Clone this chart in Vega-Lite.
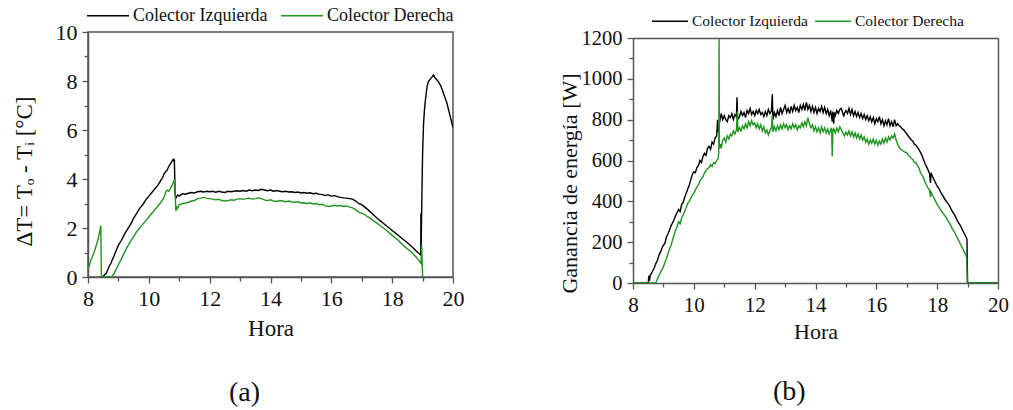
{
"$schema":"https://vega.github.io/schema/vega-lite/v6.json",
"padding":{"left":12,"top":3,"right":5,"bottom":5},
"config":{
 "font":"Liberation Serif",
 "view":{"stroke":"#555","strokeWidth":1.5},
 "axis":{"domainColor":"#555","domainWidth":1.5,"tickColor":"#555","tickWidth":1.3,"labelColor":"#111","titleColor":"#111","titleFontWeight":"normal","grid":false,"labelFlush":false,"labelOverlap":false,"labelFont":"Liberation Serif","titleFont":"Liberation Serif"},
 "legend":{"orient":"none","direction":"horizontal","symbolType":"M-1,0H3","symbolStrokeWidth":1.5,"labelFont":"Liberation Serif","labelColor":"#111","title":null},
 "title":{"fontWeight":"normal","font":"Liberation Serif","color":"#111"}
},
"spacing":92,
"resolve":{"scale":{"color":"independent"},"legend":{"color":"independent"}},
"datasets":{
"a":[
{"h":8.48,"v":0,"c":"I"},{"h":8.55,"v":0.1,"c":"I"},{"h":8.6,"v":0.15,"c":"I"},{"h":8.65,"v":0.3,"c":"I"},{"h":8.7,"v":0.45,"c":"I"},{"h":8.75,"v":0.55,"c":"I"},{"h":8.8,"v":0.7,"c":"I"},{"h":8.85,"v":0.85,"c":"I"},{"h":8.9,"v":1.0,"c":"I"},{"h":8.95,"v":1.15,"c":"I"},{"h":9.0,"v":1.3,"c":"I"},{"h":9.1,"v":1.5,"c":"I"},{"h":9.2,"v":1.75,"c":"I"},{"h":9.3,"v":1.95,"c":"I"},{"h":9.4,"v":2.15,"c":"I"},{"h":9.5,"v":2.4,"c":"I"},{"h":9.6,"v":2.6,"c":"I"},{"h":9.7,"v":2.8,"c":"I"},{"h":9.8,"v":2.95,"c":"I"},{"h":9.9,"v":3.15,"c":"I"},{"h":10.0,"v":3.3,"c":"I"},{"h":10.1,"v":3.45,"c":"I"},{"h":10.2,"v":3.6,"c":"I"},{"h":10.3,"v":3.75,"c":"I"},{"h":10.4,"v":3.95,"c":"I"},{"h":10.45,"v":4.05,"c":"I"},{"h":10.5,"v":4.2,"c":"I"},{"h":10.55,"v":4.3,"c":"I"},{"h":10.6,"v":4.35,"c":"I"},{"h":10.65,"v":4.5,"c":"I"},{"h":10.7,"v":4.6,"c":"I"},{"h":10.75,"v":4.7,"c":"I"},{"h":10.8,"v":4.8,"c":"I"},{"h":10.82,"v":4.75,"c":"I"},{"h":10.84,"v":4.8,"c":"I"},{"h":10.86,"v":3.5,"c":"I"},{"h":10.88,"v":3.2,"c":"I"},{"h":10.9,"v":3.25,"c":"I"},{"h":10.95,"v":3.35,"c":"I"},{"h":11.0,"v":3.3,"c":"I"},{"h":11.1,"v":3.4,"c":"I"},{"h":11.2,"v":3.38,"c":"I"},{"h":11.3,"v":3.42,"c":"I"},{"h":11.4,"v":3.45,"c":"I"},{"h":11.5,"v":3.43,"c":"I"},{"h":11.6,"v":3.48,"c":"I"},{"h":11.7,"v":3.5,"c":"I"},{"h":11.8,"v":3.47,"c":"I"},{"h":11.9,"v":3.5,"c":"I"},{"h":12.0,"v":3.48,"c":"I"},{"h":12.1,"v":3.5,"c":"I"},{"h":12.2,"v":3.46,"c":"I"},{"h":12.3,"v":3.5,"c":"I"},{"h":12.4,"v":3.47,"c":"I"},{"h":12.5,"v":3.45,"c":"I"},{"h":12.6,"v":3.5,"c":"I"},{"h":12.7,"v":3.48,"c":"I"},{"h":12.8,"v":3.5,"c":"I"},{"h":12.9,"v":3.52,"c":"I"},{"h":13.0,"v":3.5,"c":"I"},{"h":13.1,"v":3.53,"c":"I"},{"h":13.2,"v":3.5,"c":"I"},{"h":13.3,"v":3.55,"c":"I"},{"h":13.4,"v":3.52,"c":"I"},{"h":13.5,"v":3.55,"c":"I"},{"h":13.6,"v":3.53,"c":"I"},{"h":13.7,"v":3.58,"c":"I"},{"h":13.8,"v":3.55,"c":"I"},{"h":13.9,"v":3.52,"c":"I"},{"h":14.0,"v":3.55,"c":"I"},{"h":14.1,"v":3.5,"c":"I"},{"h":14.2,"v":3.53,"c":"I"},{"h":14.3,"v":3.5,"c":"I"},{"h":14.4,"v":3.48,"c":"I"},{"h":14.5,"v":3.5,"c":"I"},{"h":14.6,"v":3.47,"c":"I"},{"h":14.7,"v":3.48,"c":"I"},{"h":14.8,"v":3.45,"c":"I"},{"h":14.9,"v":3.47,"c":"I"},{"h":15.0,"v":3.43,"c":"I"},{"h":15.1,"v":3.45,"c":"I"},{"h":15.2,"v":3.42,"c":"I"},{"h":15.3,"v":3.44,"c":"I"},{"h":15.4,"v":3.4,"c":"I"},{"h":15.5,"v":3.42,"c":"I"},{"h":15.6,"v":3.38,"c":"I"},{"h":15.7,"v":3.36,"c":"I"},{"h":15.8,"v":3.33,"c":"I"},{"h":15.9,"v":3.35,"c":"I"},{"h":16.0,"v":3.3,"c":"I"},{"h":16.1,"v":3.32,"c":"I"},{"h":16.2,"v":3.28,"c":"I"},{"h":16.3,"v":3.25,"c":"I"},{"h":16.4,"v":3.23,"c":"I"},{"h":16.5,"v":3.22,"c":"I"},{"h":16.6,"v":3.2,"c":"I"},{"h":16.7,"v":3.18,"c":"I"},{"h":16.8,"v":3.1,"c":"I"},{"h":16.9,"v":3.0,"c":"I"},{"h":17.0,"v":2.95,"c":"I"},{"h":17.2,"v":2.75,"c":"I"},{"h":17.4,"v":2.52,"c":"I"},{"h":17.6,"v":2.3,"c":"I"},{"h":17.8,"v":2.1,"c":"I"},{"h":18.0,"v":1.9,"c":"I"},{"h":18.2,"v":1.7,"c":"I"},{"h":18.4,"v":1.5,"c":"I"},{"h":18.6,"v":1.3,"c":"I"},{"h":18.8,"v":1.05,"c":"I"},{"h":18.94,"v":0.9,"c":"I"},{"h":18.945,"v":2.6,"c":"I"},{"h":18.95,"v":1.0,"c":"I"},{"h":18.98,"v":3.5,"c":"I"},{"h":19.0,"v":5.0,"c":"I"},{"h":19.03,"v":6.2,"c":"I"},{"h":19.06,"v":6.8,"c":"I"},{"h":19.1,"v":7.3,"c":"I"},{"h":19.15,"v":7.8,"c":"I"},{"h":19.2,"v":8.0,"c":"I"},{"h":19.3,"v":8.15,"c":"I"},{"h":19.36,"v":8.25,"c":"I"},{"h":19.4,"v":8.15,"c":"I"},{"h":19.5,"v":8.0,"c":"I"},{"h":19.6,"v":7.8,"c":"I"},{"h":19.7,"v":7.45,"c":"I"},{"h":19.8,"v":7.1,"c":"I"},{"h":19.9,"v":6.6,"c":"I"},{"h":20.0,"v":6.1,"c":"I"},
{"h":8.0,"v":0.3,"c":"D"},{"h":8.05,"v":0.5,"c":"D"},{"h":8.1,"v":0.7,"c":"D"},{"h":8.15,"v":0.85,"c":"D"},{"h":8.2,"v":1.0,"c":"D"},{"h":8.25,"v":1.2,"c":"D"},{"h":8.3,"v":1.4,"c":"D"},{"h":8.35,"v":1.65,"c":"D"},{"h":8.4,"v":1.95,"c":"D"},{"h":8.42,"v":2.1,"c":"D"},{"h":8.44,"v":0,"c":"D"},{"h":8.75,"v":0,"c":"D"},{"h":8.8,"v":0.05,"c":"D"},{"h":8.85,"v":0.12,"c":"D"},{"h":8.9,"v":0.25,"c":"D"},{"h":8.95,"v":0.38,"c":"D"},{"h":9.0,"v":0.5,"c":"D"},{"h":9.1,"v":0.75,"c":"D"},{"h":9.2,"v":1.0,"c":"D"},{"h":9.3,"v":1.25,"c":"D"},{"h":9.4,"v":1.45,"c":"D"},{"h":9.5,"v":1.65,"c":"D"},{"h":9.6,"v":1.85,"c":"D"},{"h":9.7,"v":2.0,"c":"D"},{"h":9.8,"v":2.15,"c":"D"},{"h":9.9,"v":2.3,"c":"D"},{"h":10.0,"v":2.45,"c":"D"},{"h":10.1,"v":2.6,"c":"D"},{"h":10.2,"v":2.75,"c":"D"},{"h":10.3,"v":2.9,"c":"D"},{"h":10.4,"v":3.05,"c":"D"},{"h":10.5,"v":3.25,"c":"D"},{"h":10.55,"v":3.45,"c":"D"},{"h":10.6,"v":3.55,"c":"D"},{"h":10.65,"v":3.5,"c":"D"},{"h":10.7,"v":3.6,"c":"D"},{"h":10.75,"v":3.7,"c":"D"},{"h":10.8,"v":3.85,"c":"D"},{"h":10.85,"v":4.0,"c":"D"},{"h":10.87,"v":3.2,"c":"D"},{"h":10.89,"v":2.7,"c":"D"},{"h":10.92,"v":2.85,"c":"D"},{"h":10.95,"v":2.8,"c":"D"},{"h":11.0,"v":2.95,"c":"D"},{"h":11.1,"v":3.0,"c":"D"},{"h":11.2,"v":3.02,"c":"D"},{"h":11.3,"v":3.05,"c":"D"},{"h":11.4,"v":3.1,"c":"D"},{"h":11.5,"v":3.12,"c":"D"},{"h":11.6,"v":3.2,"c":"D"},{"h":11.7,"v":3.22,"c":"D"},{"h":11.8,"v":3.25,"c":"D"},{"h":11.9,"v":3.22,"c":"D"},{"h":12.0,"v":3.2,"c":"D"},{"h":12.1,"v":3.18,"c":"D"},{"h":12.2,"v":3.15,"c":"D"},{"h":12.3,"v":3.17,"c":"D"},{"h":12.4,"v":3.12,"c":"D"},{"h":12.5,"v":3.1,"c":"D"},{"h":12.6,"v":3.12,"c":"D"},{"h":12.7,"v":3.15,"c":"D"},{"h":12.8,"v":3.13,"c":"D"},{"h":12.9,"v":3.18,"c":"D"},{"h":13.0,"v":3.2,"c":"D"},{"h":13.1,"v":3.17,"c":"D"},{"h":13.2,"v":3.2,"c":"D"},{"h":13.3,"v":3.22,"c":"D"},{"h":13.4,"v":3.18,"c":"D"},{"h":13.5,"v":3.2,"c":"D"},{"h":13.6,"v":3.23,"c":"D"},{"h":13.7,"v":3.2,"c":"D"},{"h":13.8,"v":3.15,"c":"D"},{"h":13.9,"v":3.12,"c":"D"},{"h":14.0,"v":3.15,"c":"D"},{"h":14.1,"v":3.1,"c":"D"},{"h":14.2,"v":3.08,"c":"D"},{"h":14.3,"v":3.12,"c":"D"},{"h":14.4,"v":3.1,"c":"D"},{"h":14.5,"v":3.07,"c":"D"},{"h":14.6,"v":3.1,"c":"D"},{"h":14.7,"v":3.06,"c":"D"},{"h":14.8,"v":3.05,"c":"D"},{"h":14.9,"v":3.07,"c":"D"},{"h":15.0,"v":3.02,"c":"D"},{"h":15.1,"v":3.03,"c":"D"},{"h":15.2,"v":3.0,"c":"D"},{"h":15.3,"v":3.02,"c":"D"},{"h":15.4,"v":2.98,"c":"D"},{"h":15.5,"v":3.0,"c":"D"},{"h":15.6,"v":2.95,"c":"D"},{"h":15.7,"v":2.97,"c":"D"},{"h":15.8,"v":2.9,"c":"D"},{"h":15.9,"v":2.88,"c":"D"},{"h":16.0,"v":2.9,"c":"D"},{"h":16.1,"v":2.93,"c":"D"},{"h":16.2,"v":2.9,"c":"D"},{"h":16.3,"v":2.92,"c":"D"},{"h":16.4,"v":2.88,"c":"D"},{"h":16.5,"v":2.9,"c":"D"},{"h":16.6,"v":2.85,"c":"D"},{"h":16.7,"v":2.82,"c":"D"},{"h":16.8,"v":2.75,"c":"D"},{"h":16.9,"v":2.65,"c":"D"},{"h":17.0,"v":2.6,"c":"D"},{"h":17.1,"v":2.55,"c":"D"},{"h":17.2,"v":2.45,"c":"D"},{"h":17.3,"v":2.38,"c":"D"},{"h":17.4,"v":2.28,"c":"D"},{"h":17.5,"v":2.2,"c":"D"},{"h":17.6,"v":2.1,"c":"D"},{"h":17.8,"v":1.92,"c":"D"},{"h":18.0,"v":1.7,"c":"D"},{"h":18.2,"v":1.5,"c":"D"},{"h":18.4,"v":1.25,"c":"D"},{"h":18.6,"v":1.05,"c":"D"},{"h":18.8,"v":0.8,"c":"D"},{"h":18.95,"v":0.55,"c":"D"},{"h":18.97,"v":1.3,"c":"D"},{"h":19.0,"v":0.0,"c":"D"}
],
"b":[
{"h":8,"v":0,"c":"I"},{"h":8.5,"v":0,"c":"I"},{"h":8.52,"v":35,"c":"I"},{"h":8.54,"v":10,"c":"I"},{"h":8.57,"v":40,"c":"I"},{"h":8.6,"v":45,"c":"I"},{"h":8.65,"v":60,"c":"I"},{"h":8.7,"v":75,"c":"I"},{"h":8.75,"v":95,"c":"I"},{"h":8.8,"v":110,"c":"I"},{"h":8.85,"v":135,"c":"I"},{"h":8.9,"v":150,"c":"I"},{"h":8.95,"v":170,"c":"I"},{"h":9,"v":185,"c":"I"},{"h":9.05,"v":195,"c":"I"},{"h":9.1,"v":225,"c":"I"},{"h":9.15,"v":240,"c":"I"},{"h":9.2,"v":260,"c":"I"},{"h":9.25,"v":280,"c":"I"},{"h":9.3,"v":295,"c":"I"},{"h":9.35,"v":310,"c":"I"},{"h":9.4,"v":330,"c":"I"},{"h":9.45,"v":345,"c":"I"},{"h":9.5,"v":360,"c":"I"},{"h":9.55,"v":350,"c":"I"},{"h":9.6,"v":385,"c":"I"},{"h":9.65,"v":395,"c":"I"},{"h":9.7,"v":420,"c":"I"},{"h":9.75,"v":440,"c":"I"},{"h":9.8,"v":460,"c":"I"},{"h":9.85,"v":480,"c":"I"},{"h":9.9,"v":505,"c":"I"},{"h":9.95,"v":530,"c":"I"},{"h":10,"v":545,"c":"I"},{"h":10.05,"v":540,"c":"I"},{"h":10.1,"v":565,"c":"I"},{"h":10.15,"v":575,"c":"I"},{"h":10.2,"v":600,"c":"I"},{"h":10.25,"v":590,"c":"I"},{"h":10.3,"v":620,"c":"I"},{"h":10.35,"v":635,"c":"I"},{"h":10.4,"v":625,"c":"I"},{"h":10.45,"v":660,"c":"I"},{"h":10.5,"v":670,"c":"I"},{"h":10.55,"v":655,"c":"I"},{"h":10.6,"v":690,"c":"I"},{"h":10.65,"v":680,"c":"I"},{"h":10.7,"v":710,"c":"I"},{"h":10.75,"v":720,"c":"I"},{"h":10.78,"v":800,"c":"I"},{"h":10.8,"v":740,"c":"I"},{"h":10.85,"v":790,"c":"I"},{"h":10.9,"v":830,"c":"I"},{"h":10.95,"v":800,"c":"I"},{"h":11,"v":820,"c":"I"},{"h":11.05,"v":800,"c":"I"},{"h":11.1,"v":790,"c":"I"},{"h":11.15,"v":820,"c":"I"},{"h":11.2,"v":810,"c":"I"},{"h":11.25,"v":830,"c":"I"},{"h":11.3,"v":800,"c":"I"},{"h":11.35,"v":825,"c":"I"},{"h":11.4,"v":815,"c":"I"},{"h":11.42,"v":910,"c":"I"},{"h":11.44,"v":800,"c":"I"},{"h":11.5,"v":815,"c":"I"},{"h":11.55,"v":840,"c":"I"},{"h":11.6,"v":820,"c":"I"},{"h":11.65,"v":835,"c":"I"},{"h":11.7,"v":810,"c":"I"},{"h":11.75,"v":845,"c":"I"},{"h":11.8,"v":830,"c":"I"},{"h":11.85,"v":855,"c":"I"},{"h":11.9,"v":825,"c":"I"},{"h":11.95,"v":840,"c":"I"},{"h":12,"v":820,"c":"I"},{"h":12.05,"v":845,"c":"I"},{"h":12.1,"v":830,"c":"I"},{"h":12.15,"v":850,"c":"I"},{"h":12.2,"v":825,"c":"I"},{"h":12.25,"v":835,"c":"I"},{"h":12.3,"v":815,"c":"I"},{"h":12.35,"v":840,"c":"I"},{"h":12.4,"v":820,"c":"I"},{"h":12.45,"v":850,"c":"I"},{"h":12.5,"v":830,"c":"I"},{"h":12.55,"v":840,"c":"I"},{"h":12.58,"v":925,"c":"I"},{"h":12.6,"v":800,"c":"I"},{"h":12.65,"v":835,"c":"I"},{"h":12.7,"v":815,"c":"I"},{"h":12.75,"v":845,"c":"I"},{"h":12.8,"v":820,"c":"I"},{"h":12.85,"v":860,"c":"I"},{"h":12.9,"v":830,"c":"I"},{"h":12.95,"v":850,"c":"I"},{"h":13,"v":870,"c":"I"},{"h":13.05,"v":835,"c":"I"},{"h":13.1,"v":855,"c":"I"},{"h":13.15,"v":830,"c":"I"},{"h":13.2,"v":865,"c":"I"},{"h":13.25,"v":840,"c":"I"},{"h":13.3,"v":870,"c":"I"},{"h":13.35,"v":845,"c":"I"},{"h":13.4,"v":860,"c":"I"},{"h":13.45,"v":835,"c":"I"},{"h":13.5,"v":870,"c":"I"},{"h":13.55,"v":850,"c":"I"},{"h":13.6,"v":875,"c":"I"},{"h":13.65,"v":845,"c":"I"},{"h":13.7,"v":885,"c":"I"},{"h":13.75,"v":850,"c":"I"},{"h":13.8,"v":870,"c":"I"},{"h":13.85,"v":840,"c":"I"},{"h":13.9,"v":865,"c":"I"},{"h":13.95,"v":835,"c":"I"},{"h":14,"v":860,"c":"I"},{"h":14.05,"v":830,"c":"I"},{"h":14.1,"v":855,"c":"I"},{"h":14.15,"v":840,"c":"I"},{"h":14.2,"v":865,"c":"I"},{"h":14.25,"v":835,"c":"I"},{"h":14.3,"v":860,"c":"I"},{"h":14.35,"v":830,"c":"I"},{"h":14.4,"v":850,"c":"I"},{"h":14.45,"v":820,"c":"I"},{"h":14.5,"v":845,"c":"I"},{"h":14.55,"v":790,"c":"I"},{"h":14.57,"v":840,"c":"I"},{"h":14.6,"v":780,"c":"I"},{"h":14.62,"v":835,"c":"I"},{"h":14.65,"v":820,"c":"I"},{"h":14.7,"v":845,"c":"I"},{"h":14.75,"v":830,"c":"I"},{"h":14.8,"v":850,"c":"I"},{"h":14.85,"v":855,"c":"I"},{"h":14.9,"v":830,"c":"I"},{"h":14.93,"v":815,"c":"I"},{"h":14.95,"v":830,"c":"I"},{"h":15,"v":845,"c":"I"},{"h":15.05,"v":830,"c":"I"},{"h":15.1,"v":855,"c":"I"},{"h":15.15,"v":825,"c":"I"},{"h":15.2,"v":850,"c":"I"},{"h":15.25,"v":820,"c":"I"},{"h":15.3,"v":840,"c":"I"},{"h":15.35,"v":815,"c":"I"},{"h":15.4,"v":835,"c":"I"},{"h":15.45,"v":810,"c":"I"},{"h":15.5,"v":830,"c":"I"},{"h":15.55,"v":805,"c":"I"},{"h":15.6,"v":825,"c":"I"},{"h":15.65,"v":800,"c":"I"},{"h":15.7,"v":820,"c":"I"},{"h":15.75,"v":795,"c":"I"},{"h":15.8,"v":815,"c":"I"},{"h":15.85,"v":790,"c":"I"},{"h":15.9,"v":810,"c":"I"},{"h":15.95,"v":780,"c":"I"},{"h":16,"v":805,"c":"I"},{"h":16.05,"v":790,"c":"I"},{"h":16.1,"v":815,"c":"I"},{"h":16.15,"v":780,"c":"I"},{"h":16.2,"v":800,"c":"I"},{"h":16.25,"v":770,"c":"I"},{"h":16.3,"v":795,"c":"I"},{"h":16.35,"v":775,"c":"I"},{"h":16.4,"v":805,"c":"I"},{"h":16.45,"v":770,"c":"I"},{"h":16.5,"v":790,"c":"I"},{"h":16.55,"v":765,"c":"I"},{"h":16.6,"v":800,"c":"I"},{"h":16.65,"v":770,"c":"I"},{"h":16.7,"v":780,"c":"I"},{"h":16.75,"v":770,"c":"I"},{"h":16.8,"v":765,"c":"I"},{"h":16.85,"v":755,"c":"I"},{"h":16.9,"v":750,"c":"I"},{"h":16.95,"v":740,"c":"I"},{"h":17,"v":730,"c":"I"},{"h":17.05,"v":720,"c":"I"},{"h":17.1,"v":710,"c":"I"},{"h":17.15,"v":700,"c":"I"},{"h":17.2,"v":695,"c":"I"},{"h":17.25,"v":680,"c":"I"},{"h":17.3,"v":675,"c":"I"},{"h":17.35,"v":665,"c":"I"},{"h":17.4,"v":655,"c":"I"},{"h":17.45,"v":640,"c":"I"},{"h":17.5,"v":625,"c":"I"},{"h":17.55,"v":605,"c":"I"},{"h":17.6,"v":585,"c":"I"},{"h":17.65,"v":570,"c":"I"},{"h":17.7,"v":555,"c":"I"},{"h":17.75,"v":535,"c":"I"},{"h":17.78,"v":490,"c":"I"},{"h":17.8,"v":540,"c":"I"},{"h":17.85,"v":520,"c":"I"},{"h":17.9,"v":505,"c":"I"},{"h":17.95,"v":490,"c":"I"},{"h":18,"v":475,"c":"I"},{"h":18.05,"v":465,"c":"I"},{"h":18.1,"v":450,"c":"I"},{"h":18.15,"v":435,"c":"I"},{"h":18.2,"v":425,"c":"I"},{"h":18.25,"v":410,"c":"I"},{"h":18.3,"v":400,"c":"I"},{"h":18.35,"v":390,"c":"I"},{"h":18.4,"v":380,"c":"I"},{"h":18.45,"v":365,"c":"I"},{"h":18.5,"v":350,"c":"I"},{"h":18.55,"v":340,"c":"I"},{"h":18.6,"v":325,"c":"I"},{"h":18.65,"v":310,"c":"I"},{"h":18.7,"v":295,"c":"I"},{"h":18.75,"v":285,"c":"I"},{"h":18.8,"v":270,"c":"I"},{"h":18.85,"v":255,"c":"I"},{"h":18.9,"v":240,"c":"I"},{"h":18.95,"v":225,"c":"I"},{"h":18.98,"v":215,"c":"I"},{"h":18.99,"v":100,"c":"I"},{"h":19,"v":0,"c":"I"},{"h":20,"v":0,"c":"I"},
{"h":8,"v":0,"c":"D"},{"h":8.75,"v":0,"c":"D"},{"h":8.8,"v":20,"c":"D"},{"h":8.85,"v":35,"c":"D"},{"h":8.9,"v":50,"c":"D"},{"h":8.95,"v":65,"c":"D"},{"h":9,"v":80,"c":"D"},{"h":9.05,"v":100,"c":"D"},{"h":9.1,"v":120,"c":"D"},{"h":9.15,"v":145,"c":"D"},{"h":9.2,"v":165,"c":"D"},{"h":9.25,"v":185,"c":"D"},{"h":9.3,"v":210,"c":"D"},{"h":9.35,"v":235,"c":"D"},{"h":9.4,"v":260,"c":"D"},{"h":9.45,"v":275,"c":"D"},{"h":9.5,"v":300,"c":"D"},{"h":9.55,"v":290,"c":"D"},{"h":9.6,"v":320,"c":"D"},{"h":9.65,"v":335,"c":"D"},{"h":9.7,"v":350,"c":"D"},{"h":9.75,"v":370,"c":"D"},{"h":9.8,"v":390,"c":"D"},{"h":9.85,"v":400,"c":"D"},{"h":9.9,"v":415,"c":"D"},{"h":9.95,"v":430,"c":"D"},{"h":10,"v":440,"c":"D"},{"h":10.05,"v":455,"c":"D"},{"h":10.1,"v":470,"c":"D"},{"h":10.15,"v":480,"c":"D"},{"h":10.2,"v":500,"c":"D"},{"h":10.25,"v":510,"c":"D"},{"h":10.3,"v":520,"c":"D"},{"h":10.35,"v":540,"c":"D"},{"h":10.4,"v":550,"c":"D"},{"h":10.45,"v":560,"c":"D"},{"h":10.5,"v":565,"c":"D"},{"h":10.55,"v":580,"c":"D"},{"h":10.6,"v":570,"c":"D"},{"h":10.65,"v":590,"c":"D"},{"h":10.7,"v":585,"c":"D"},{"h":10.75,"v":600,"c":"D"},{"h":10.8,"v":610,"c":"D"},{"h":10.82,"v":640,"c":"D"},{"h":10.83,"v":1200,"c":"D"},{"h":10.84,"v":660,"c":"D"},{"h":10.87,"v":680,"c":"D"},{"h":10.9,"v":660,"c":"D"},{"h":10.95,"v":700,"c":"D"},{"h":11,"v":710,"c":"D"},{"h":11.05,"v":690,"c":"D"},{"h":11.1,"v":720,"c":"D"},{"h":11.15,"v":705,"c":"D"},{"h":11.2,"v":730,"c":"D"},{"h":11.25,"v":720,"c":"D"},{"h":11.3,"v":745,"c":"D"},{"h":11.35,"v":730,"c":"D"},{"h":11.4,"v":750,"c":"D"},{"h":11.43,"v":840,"c":"D"},{"h":11.45,"v":740,"c":"D"},{"h":11.5,"v":760,"c":"D"},{"h":11.55,"v":745,"c":"D"},{"h":11.6,"v":770,"c":"D"},{"h":11.65,"v":755,"c":"D"},{"h":11.7,"v":780,"c":"D"},{"h":11.75,"v":760,"c":"D"},{"h":11.8,"v":790,"c":"D"},{"h":11.85,"v":770,"c":"D"},{"h":11.9,"v":795,"c":"D"},{"h":11.95,"v":775,"c":"D"},{"h":12,"v":785,"c":"D"},{"h":12.05,"v":760,"c":"D"},{"h":12.1,"v":780,"c":"D"},{"h":12.15,"v":755,"c":"D"},{"h":12.2,"v":775,"c":"D"},{"h":12.25,"v":745,"c":"D"},{"h":12.3,"v":765,"c":"D"},{"h":12.35,"v":735,"c":"D"},{"h":12.4,"v":750,"c":"D"},{"h":12.45,"v":725,"c":"D"},{"h":12.5,"v":745,"c":"D"},{"h":12.55,"v":760,"c":"D"},{"h":12.58,"v":820,"c":"D"},{"h":12.6,"v":740,"c":"D"},{"h":12.65,"v":765,"c":"D"},{"h":12.7,"v":745,"c":"D"},{"h":12.75,"v":770,"c":"D"},{"h":12.8,"v":750,"c":"D"},{"h":12.85,"v":775,"c":"D"},{"h":12.9,"v":755,"c":"D"},{"h":12.95,"v":780,"c":"D"},{"h":13,"v":760,"c":"D"},{"h":13.05,"v":775,"c":"D"},{"h":13.1,"v":750,"c":"D"},{"h":13.15,"v":770,"c":"D"},{"h":13.2,"v":755,"c":"D"},{"h":13.25,"v":780,"c":"D"},{"h":13.3,"v":760,"c":"D"},{"h":13.35,"v":775,"c":"D"},{"h":13.4,"v":750,"c":"D"},{"h":13.45,"v":770,"c":"D"},{"h":13.5,"v":760,"c":"D"},{"h":13.55,"v":785,"c":"D"},{"h":13.6,"v":765,"c":"D"},{"h":13.65,"v":790,"c":"D"},{"h":13.7,"v":770,"c":"D"},{"h":13.75,"v":810,"c":"D"},{"h":13.8,"v":780,"c":"D"},{"h":13.85,"v":760,"c":"D"},{"h":13.9,"v":775,"c":"D"},{"h":13.95,"v":745,"c":"D"},{"h":14,"v":765,"c":"D"},{"h":14.05,"v":740,"c":"D"},{"h":14.1,"v":760,"c":"D"},{"h":14.15,"v":735,"c":"D"},{"h":14.2,"v":765,"c":"D"},{"h":14.25,"v":740,"c":"D"},{"h":14.3,"v":760,"c":"D"},{"h":14.35,"v":735,"c":"D"},{"h":14.4,"v":755,"c":"D"},{"h":14.45,"v":730,"c":"D"},{"h":14.5,"v":750,"c":"D"},{"h":14.53,"v":760,"c":"D"},{"h":14.55,"v":620,"c":"D"},{"h":14.57,"v":745,"c":"D"},{"h":14.6,"v":755,"c":"D"},{"h":14.65,"v":735,"c":"D"},{"h":14.7,"v":760,"c":"D"},{"h":14.75,"v":740,"c":"D"},{"h":14.8,"v":765,"c":"D"},{"h":14.85,"v":750,"c":"D"},{"h":14.9,"v":735,"c":"D"},{"h":14.95,"v":720,"c":"D"},{"h":15,"v":740,"c":"D"},{"h":15.05,"v":725,"c":"D"},{"h":15.1,"v":745,"c":"D"},{"h":15.15,"v":720,"c":"D"},{"h":15.2,"v":740,"c":"D"},{"h":15.25,"v":715,"c":"D"},{"h":15.3,"v":735,"c":"D"},{"h":15.35,"v":710,"c":"D"},{"h":15.4,"v":730,"c":"D"},{"h":15.45,"v":705,"c":"D"},{"h":15.5,"v":725,"c":"D"},{"h":15.55,"v":700,"c":"D"},{"h":15.6,"v":715,"c":"D"},{"h":15.65,"v":690,"c":"D"},{"h":15.7,"v":705,"c":"D"},{"h":15.75,"v":680,"c":"D"},{"h":15.8,"v":700,"c":"D"},{"h":15.85,"v":685,"c":"D"},{"h":15.9,"v":705,"c":"D"},{"h":15.95,"v":680,"c":"D"},{"h":16,"v":700,"c":"D"},{"h":16.05,"v":675,"c":"D"},{"h":16.1,"v":695,"c":"D"},{"h":16.15,"v":680,"c":"D"},{"h":16.2,"v":705,"c":"D"},{"h":16.25,"v":685,"c":"D"},{"h":16.3,"v":710,"c":"D"},{"h":16.35,"v":690,"c":"D"},{"h":16.4,"v":715,"c":"D"},{"h":16.45,"v":700,"c":"D"},{"h":16.5,"v":720,"c":"D"},{"h":16.55,"v":710,"c":"D"},{"h":16.6,"v":730,"c":"D"},{"h":16.65,"v":700,"c":"D"},{"h":16.7,"v":680,"c":"D"},{"h":16.75,"v":665,"c":"D"},{"h":16.8,"v":655,"c":"D"},{"h":16.85,"v":650,"c":"D"},{"h":16.9,"v":645,"c":"D"},{"h":16.95,"v":640,"c":"D"},{"h":17,"v":640,"c":"D"},{"h":17.05,"v":625,"c":"D"},{"h":17.1,"v":620,"c":"D"},{"h":17.15,"v":610,"c":"D"},{"h":17.2,"v":605,"c":"D"},{"h":17.25,"v":590,"c":"D"},{"h":17.3,"v":590,"c":"D"},{"h":17.35,"v":575,"c":"D"},{"h":17.4,"v":565,"c":"D"},{"h":17.45,"v":540,"c":"D"},{"h":17.5,"v":530,"c":"D"},{"h":17.55,"v":515,"c":"D"},{"h":17.6,"v":495,"c":"D"},{"h":17.65,"v":480,"c":"D"},{"h":17.7,"v":465,"c":"D"},{"h":17.75,"v":455,"c":"D"},{"h":17.78,"v":420,"c":"D"},{"h":17.8,"v":445,"c":"D"},{"h":17.85,"v":430,"c":"D"},{"h":17.9,"v":415,"c":"D"},{"h":17.95,"v":400,"c":"D"},{"h":18,"v":385,"c":"D"},{"h":18.05,"v":375,"c":"D"},{"h":18.1,"v":360,"c":"D"},{"h":18.15,"v":350,"c":"D"},{"h":18.2,"v":340,"c":"D"},{"h":18.25,"v":330,"c":"D"},{"h":18.3,"v":320,"c":"D"},{"h":18.35,"v":305,"c":"D"},{"h":18.4,"v":295,"c":"D"},{"h":18.45,"v":280,"c":"D"},{"h":18.5,"v":265,"c":"D"},{"h":18.55,"v":255,"c":"D"},{"h":18.6,"v":240,"c":"D"},{"h":18.65,"v":225,"c":"D"},{"h":18.7,"v":210,"c":"D"},{"h":18.75,"v":195,"c":"D"},{"h":18.8,"v":180,"c":"D"},{"h":18.85,"v":165,"c":"D"},{"h":18.9,"v":150,"c":"D"},{"h":18.95,"v":135,"c":"D"},{"h":18.97,"v":120,"c":"D"},{"h":18.99,"v":0,"c":"D"},{"h":20,"v":0,"c":"D"}
]
},
"hconcat":[
{
 "width":365,"height":245,
 "title":{"text":"(a)","orient":"bottom","fontSize":28,"offset":39,"anchor":"middle","frame":"bounds","dx":6},
 "resolve":{"axis":{"x":"independent","y":"independent"}},
 "layer":[
  {"data":{"name":"a"},"mark":{"type":"line","strokeWidth":1.4,"clip":true},
   "encoding":{
    "x":{"field":"h","type":"quantitative","scale":{"domain":[8,20],"nice":false,"zero":false},"axis":{"orient":"bottom","values":[8,10,12,14,16,18,20],"tickSize":6,"labelPadding":5,"labelFontSize":22,"title":"Hora","titleFontSize":23,"titlePadding":8}},
    "y":{"field":"v","type":"quantitative","scale":{"domain":[0,10],"nice":false},"axis":{"orient":"left","values":[0,2,4,6,8,10],"tickSize":6,"labelPadding":5,"labelFontSize":22,"title":"ΔT= Tₒ - Tᵢ [°C]","titleFontSize":23,"titleX":-52,"titleY":139}},
    "color":{"field":"c","type":"nominal","sort":["I","D"],"scale":{"domain":["I","D"],"range":["#000000","#1f941f"]},"legend":{"legendX":-2,"legendY":-28,"labelFontSize":18,"symbolSize":441,"labelOffset":24,"columnPadding":10,"labelExpr":"datum.label === 'I' ? 'Colector Izquierda' : 'Colector Derecha'"}}
   }},
  {"data":{"name":"a"},"mark":{"type":"line","opacity":0},
   "encoding":{
    "x":{"field":"h","type":"quantitative","axis":{"orient":"bottom","values":[9,11,13,15,17,19],"tickSize":4,"labels":false,"domain":false,"title":null}},
    "y":{"field":"v","type":"quantitative","axis":{"orient":"left","values":[1,3,5,7,9],"tickSize":4,"labels":false,"domain":false,"title":null}}
   }}
 ]
},
{
 "width":365,"height":251,
 "view":{"stroke":null},
 "title":{"text":"(b)","orient":"bottom","fontSize":28,"offset":36,"anchor":"middle","frame":"bounds","dx":6},
 "resolve":{"axis":{"x":"independent","y":"independent"}},
 "layer":[
  {"data":{"name":"b"},"mark":{"type":"line","strokeWidth":1.4,"clip":true},
   "encoding":{
    "x":{"field":"h","type":"quantitative","scale":{"domain":[8,20],"nice":false,"zero":false},"axis":{"orient":"bottom","values":[8,10,12,14,16,18,20],"tickSize":6,"labelPadding":5,"labelFontSize":21,"title":"Hora","titleFontSize":22,"titlePadding":6}},
    "y":{"field":"v","type":"quantitative","scale":{"domain":[0,1200],"nice":false,"range":[251,6]},"axis":{"orient":"left","values":[0,200,400,600,800,1000,1200],"format":"d","tickSize":6,"labelPadding":5,"labelFontSize":20.5,"title":"Ganancia de energía [W]","titleFontSize":22,"titleX":-52,"titleY":151}},
    "color":{"field":"c","type":"nominal","sort":["I","D"],"scale":{"domain":["I","D"],"range":["#000000","#1f941f"]},"legend":{"legendX":18,"legendY":-21,"labelFontSize":15.5,"symbolSize":324,"labelOffset":21,"columnPadding":4,"labelExpr":"datum.label === 'I' ? 'Colector Izquierda' : 'Colector Derecha'"}}
   }},
  {"data":{"name":"b"},"mark":{"type":"line","opacity":0},
   "encoding":{
    "x":{"field":"h","type":"quantitative","axis":{"orient":"bottom","values":[9,11,13,15,17,19],"tickSize":4,"labels":false,"domain":false,"title":null}},
    "y":{"field":"v","type":"quantitative","axis":{"orient":"left","values":[100,300,500,700,900,1100],"tickSize":4,"labels":false,"domain":false,"title":null}}
   }},
  {"data":{"name":"b"},"mark":{"type":"line","opacity":0},
   "encoding":{
    "x":{"field":"h","type":"quantitative","axis":{"orient":"top","offset":-6,"ticks":false,"labels":false,"domain":true,"title":null}},
    "y":{"field":"v","type":"quantitative","axis":{"orient":"right","ticks":false,"labels":false,"domain":true,"title":null}}
   }}
 ]
}
]
}
